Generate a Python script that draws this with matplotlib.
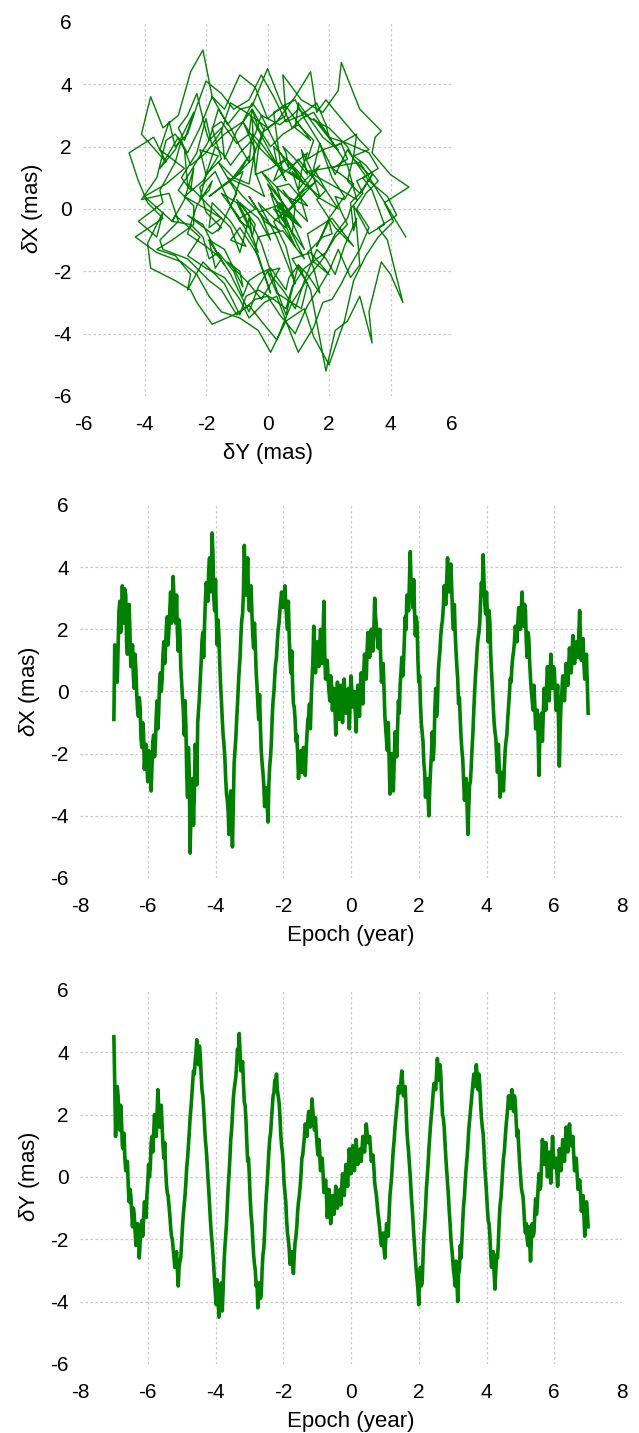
import numpy as np
import matplotlib.pyplot as plt

plt.rcParams['font.family'] = ['Liberation Sans', 'DejaVu Sans']
plt.rcParams['mathtext.fontset'] = 'custom'
plt.rcParams['mathtext.it'] = 'Liberation Sans:italic'
plt.rcParams['mathtext.rm'] = 'Liberation Sans'
plt.rcParams['axes.unicode_minus'] = False

# epoch in years, 0.025 yr step
epoch = np.linspace(-7, 7, 561)

# dX (mas), one row per year
dx = [
    -0.9, 1.5, 1.2, 0.6, 0.3, 1.4, 2.6, 2.9, 1.9, 2.3, 3.4, 2.6, 2.2, 3.3, 3.1, 1.6, 1.2, 2.0, 2.8, 1.9,
    0.8, 1.0, 1.5, 0.5, 0.1, 1.2, 0.7, -0.1, -0.6, -0.8, -0.2, -0.5, -1.5, -1.8, -1.0, -1.3, -2.5, -2.0, -1.7, -2.4,
    -2.9, -1.9, -2.0, -2.7, -3.2, -2.4, -1.6, -1.4, -2.1, -1.7, -0.8, -0.3, -1.2, -0.6, 0.3, 0.6, 0.0, 0.4, 1.2, 1.6,
    0.9, 1.4, 2.1, 2.4, 1.5, 2.0, 2.6, 3.2, 2.2, 2.5, 3.7, 3.0, 2.6, 2.2, 3.1, 1.9, 1.3, 2.3, 1.9, 0.8,
    0.3, -0.2, -0.6, -1.4, -0.3, -1.1, -2.6, -3.4, -1.8, -2.6, -5.2, -3.9, -3.6, -2.8, -4.3, -3.3, -1.7, -2.1, -3.0, -1.0,
    -0.6, -0.2, 0.4, 0.9, 1.6, 1.9, 1.1, 2.1, 2.9, 3.5, 3.3, 2.9, 3.9, 4.3, 3.2, 3.6, 5.1, 4.4, 3.0, 2.6,
    3.6, 2.4, 1.5, 2.3, 1.8, 0.9, 0.2, -0.3, -0.9, -1.4, -1.7, -2.1, -2.8, -3.3, -3.5, -3.9, -4.6, -3.6, -3.2, -4.1,
    -5.0, -3.6, -2.3, -1.9, -1.5, -0.9, -0.4, 0.2, 0.7, 1.1, 1.8, 2.3, 2.5, 3.2, 4.7, 3.8, 3.1, 3.5, 4.3, 3.0,
    2.6, 3.1, 3.4, 2.5, 1.8, 1.4, 2.2, 1.5, 0.6, 0.2, -0.4, -0.9, -0.1, -1.1, -1.9, -2.3, -2.6, -3.0, -3.7, -3.4,
    -3.1, -3.6, -4.2, -3.0, -2.4, -2.1, -1.6, -0.8, -0.3, 0.0, 0.5, 0.9, 1.1, 1.6, 2.0, 2.2, 2.6, 2.9, 3.2, 3.0,
    2.7, 3.0, 3.4, 2.8, 2.4, 2.0, 2.9, 1.8, 1.0, 0.6, 1.3, 0.3, -0.4, -0.5, -0.9, -1.6, -1.4, -2.0, -2.8, -2.3,
    -2.1, -1.9, -2.6, -2.2, -1.8, -2.1, -2.7, -1.9, -1.4, -0.9, -0.8, -0.4, -1.2, -0.3, 0.4, 1.0, 2.1, 1.3, 0.6, 1.1,
    1.6, 1.2, 0.8, 1.4, 2.0, 1.5, 0.9, 1.8, 2.9, 1.2, 0.4, 0.7, 1.0, 0.4, 0.0, -0.3, 0.5, 0.2, -0.6, -0.4,
    0.1, -0.5, -1.4, -0.3, 0.3, -0.2, -0.9, -0.5, 0.2, -0.3, -1.0, -0.2, 0.4, -0.4, -0.7, -0.5, -0.1, 0.1, -1.2, -0.4,
    0.5, 0.0, -0.5, -0.2, 0.0, -0.6, -1.3, -0.4, 0.2, -0.3, -0.8, 0.1, 0.6, 0.0, -0.4, 0.6, 1.2, 0.8, 0.4, 1.3,
    1.9, 1.5, 1.1, 1.6, 2.0, 1.8, 1.3, 2.0, 3.0, 2.4, 2.1, 1.8, 1.4, 1.7, 2.0, 1.1, 0.3, 0.6, 0.9, 0.1,
    -0.8, -1.2, -1.6, -1.9, -1.0, -2.1, -3.3, -2.5, -2.0, -2.6, -3.2, -2.3, -1.3, -1.6, -2.1, -1.2, -0.3, -0.7, 0.2, 0.6,
    1.1, 0.5, 0.9, 1.7, 2.4, 2.0, 3.1, 2.9, 2.6, 3.5, 4.5, 3.3, 3.2, 2.7, 3.6, 2.6, 1.8, 2.4, 2.2, 1.0,
    0.3, 0.5, -0.4, -1.0, -1.3, -1.6, -2.3, -2.6, -3.4, -2.9, -2.8, -3.4, -4.0, -3.1, -2.5, -2.0, -1.3, -2.2, -1.8, -0.6,
    0.1, -0.8, -0.5, 0.6, 1.0, 1.3, 1.8, 2.1, 2.3, 2.7, 3.4, 3.0, 2.8, 3.6, 4.3, 3.5, 3.2, 3.7, 4.1, 3.3,
    2.4, 2.0, 2.8, 1.9, 1.3, 0.8, 0.4, -0.4, -0.2, -0.9, -1.5, -1.9, -2.2, -2.9, -3.5, -3.0, -2.8, -3.6, -4.6, -3.8,
    -3.0, -2.9, -2.4, -1.8, -1.3, -0.6, 0.0, 0.5, 0.9, 1.4, 1.7, 1.9, 2.2, 2.9, 3.5, 3.1, 4.4, 3.6, 2.8, 2.5,
    3.2, 2.5, 1.6, 2.6, 2.2, 1.2, 0.6, 0.1, -0.5, -1.0, -1.3, -1.5, -2.1, -2.6, -1.7, -2.4, -3.4, -2.8, -2.6, -2.9,
    -3.2, -2.5, -1.9, -1.6, -1.4, -0.9, -0.5, -0.1, 0.4, 0.3, 0.8, 1.1, 1.3, 1.6, 2.1, 1.9, 1.6, 2.2, 2.7, 2.4,
    2.0, 2.6, 3.2, 2.4, 2.1, 2.8, 2.6, 1.6, 1.1, 1.9, 1.7, 0.9, 0.4, 0.0, -0.3, -0.6, 0.2, -0.4, -1.2, -1.0,
    -0.6, -1.5, -2.7, -1.3, -0.9, -0.7, -1.6, -0.8, 0.1, -0.2, -0.6, 0.2, 0.8, 0.0, -0.3, 0.5, 1.2, 0.4, 0.1, 0.8,
    0.7, 0.1, -0.6, -0.3, 0.2, -0.9, -2.4, -1.2, -0.4, 0.0, 0.5, 0.2, -0.3, 0.3, 0.9, 0.6, 0.2, 0.8, 1.4, 0.9,
    0.6, 1.2, 1.8, 1.3, 0.9, 1.4, 1.6, 1.3, 1.1, 1.9, 2.6, 1.6, 1.0, 1.2, 1.7, 0.9, 0.4, 0.8, 1.2, 0.3,
    -0.7,
]

# dY (mas), one row per year
dy = [
    4.5, 3.0, 1.3, 2.4, 2.9, 2.6, 1.8, 1.5, 2.3, 1.8, 1.0, 0.9, 1.4, 0.6, 0.2, 0.4, 0.5, -0.3, -0.8, -0.4,
    -0.6, -1.1, -1.6, -1.0, -1.2, -1.7, -2.2, -2.0, -1.5, -1.8, -2.6, -2.1, -1.6, -1.4, -1.9, -1.4, -0.8, -0.9, -1.3, -0.6,
    -0.2, 0.4, 0.0, 0.3, 1.1, 1.3, 0.8, 1.4, 2.0, 1.5, 1.3, 2.1, 2.8, 2.2, 1.6, 1.9, 2.3, 1.6, 1.0, 0.6,
    1.1, 0.3, -0.2, -0.5, -0.6, -0.9, -1.2, -1.6, -1.9, -2.0, -2.3, -2.6, -2.9, -2.7, -2.4, -3.0, -3.5, -2.9, -2.7, -2.6,
    -2.1, -1.6, -1.2, -0.9, -0.6, -0.2, 0.3, 0.6, 1.0, 1.4, 1.9, 2.2, 2.6, 3.0, 3.4, 3.3, 3.7, 4.0, 4.4, 3.9,
    3.6, 4.2, 3.9, 3.3, 2.8, 2.6, 2.2, 1.7, 1.2, 0.9, 0.5, 0.0, -0.4, -0.9, -1.4, -1.8, -2.1, -2.5, -2.9, -3.4,
    -3.8, -4.1, -3.3, -3.7, -4.5, -4.2, -3.9, -3.4, -4.3, -3.6, -2.8, -2.3, -1.9, -1.5, -0.9, -0.3, 0.1, 0.6, 1.2, 1.5,
    2.0, 2.5, 2.8, 3.0, 3.2, 3.6, 4.1, 3.8, 4.6, 4.0, 3.4, 3.5, 3.7, 3.0, 2.4, 2.3, 1.8, 1.1, 0.5, 0.6,
    0.0, -0.7, -1.2, -1.5, -2.0, -2.5, -2.8, -3.0, -3.5, -3.4, -4.2, -3.6, -3.4, -3.9, -3.8, -3.0, -2.5, -2.3, -1.8, -1.1,
    -0.6, -0.2, 0.3, 0.8, 1.2, 1.4, 1.8, 2.2, 2.6, 2.7, 3.1, 2.9, 3.3, 2.8, 2.6, 2.4, 2.0, 1.4, 1.0, 0.8,
    0.4, -0.2, -0.5, -0.8, -1.4, -1.8, -2.0, -2.3, -2.8, -2.5, -2.4, -2.7, -3.1, -2.5, -2.1, -1.9, -1.6, -1.1, -0.8, -0.6,
    -0.3, 0.1, 0.6, 0.7, 1.0, 1.3, 1.7, 1.5, 1.3, 1.8, 2.1, 2.0, 1.6, 2.0, 2.5, 2.1, 1.7, 1.5, 1.9, 1.4,
    1.0, 0.7, 1.2, 0.8, 0.2, 0.3, 0.6, 0.1, -0.5, -0.4, -0.1, -0.6, -1.3, -0.8, -0.4, -0.9, -1.5, -1.0, -0.6, -0.9,
    -1.2, -0.8, -0.3, -0.7, -1.0, -0.6, -0.5, -0.4, -0.9, -0.3, 0.1, -0.2, -0.6, -0.1, 0.4, 0.1, -0.3, 0.3, 0.9, 0.4,
    0.1, 0.5, 1.0, 0.6, 0.2, 0.7, 1.2, 0.8, 0.4, 0.6, 0.8, 0.9, 0.5, 0.9, 1.3, 1.0, 0.8, 1.2, 1.7, 1.4,
    1.1, 1.2, 1.3, 0.9, 0.5, 0.6, 0.7, 0.3, -0.2, -0.4, -0.6, -0.9, -1.2, -1.4, -1.7, -2.0, -2.2, -1.9, -1.8, -2.3,
    -2.6, -2.0, -1.5, -1.7, -1.9, -1.2, -0.6, -0.3, 0.0, 0.5, 0.9, 1.2, 1.6, 1.9, 2.2, 2.5, 2.9, 2.8, 2.7, 3.1,
    3.4, 3.0, 2.6, 2.8, 2.9, 2.2, 1.5, 1.1, 0.8, 0.4, 0.0, -0.5, -0.9, -1.3, -1.8, -2.2, -2.6, -3.0, -3.3, -3.6,
    -4.1, -3.2, -2.9, -3.5, -3.4, -2.6, -1.9, -1.5, -1.0, -0.4, 0.0, 0.4, 0.9, 1.3, 1.7, 2.0, 2.3, 2.7, 3.0, 2.9,
    2.8, 3.3, 3.8, 3.4, 3.1, 3.6, 3.3, 2.6, 2.0, 1.9, 1.6, 1.1, 0.6, 0.2, -0.2, -0.6, -1.1, -1.5, -2.0, -2.3,
    -2.6, -3.0, -3.2, -3.5, -2.7, -3.3, -4.0, -3.1, -3.0, -2.2, -2.6, -2.0, -1.4, -0.9, -0.6, -0.1, 0.3, 0.6, 1.0, 1.5,
    1.8, 2.1, 2.4, 2.7, 3.0, 3.3, 2.9, 3.2, 3.6, 3.2, 2.8, 3.3, 3.0, 2.4, 1.9, 1.6, 1.4, 0.9, 0.3, -0.1,
    -0.5, -1.0, -1.4, -1.5, -1.9, -2.5, -2.9, -2.4, -2.4, -3.1, -3.6, -3.0, -2.5, -2.6, -2.1, -1.4, -0.9, -0.7, -0.3, 0.2,
    0.6, 0.8, 1.2, 1.6, 1.9, 2.2, 2.6, 2.4, 2.2, 2.5, 2.8, 2.4, 2.1, 2.6, 2.4, 1.8, 1.3, 1.5, 1.0, 0.5,
    0.1, -0.3, -0.5, -0.6, -1.0, -1.5, -1.8, -1.5, -2.0, -2.2, -1.6, -2.1, -2.7, -2.0, -1.5, -1.9, -1.8, -1.2, -0.7, -1.2,
    -0.9, -0.3, 0.1, -0.4, -0.3, 0.5, 1.2, 0.8, 0.4, 0.6, 1.1, 0.5, 0.0, 0.4, 0.8, 0.3, -0.2, 0.6, 1.3, 0.7,
    0.3, 0.5, 0.6, 0.2, -0.3, 0.3, 0.9, 0.6, 0.2, 0.7, 1.2, 0.9, 0.5, 1.0, 1.6, 1.2, 0.8, 1.3, 1.7, 1.2,
    1.0, 1.1, 1.3, 0.7, 0.2, 0.4, 0.6, 0.1, -0.4, -0.3, -0.1, -0.5, -1.1, -0.9, -0.6, -1.2, -1.9, -1.4, -0.8, -1.1,
    -1.6,
]

sq_ticks = [-6, -4, -2, 0, 2, 4, 6]
ep_ticks = [-8, -6, -4, -2, 0, 2, 4, 6, 8]
GREEN = '#008000'


def style(ax, xt, yt):
    ax.set_xlim(xt[0], xt[-1])
    ax.set_ylim(yt[0], yt[-1])
    ax.set_xticks(xt)
    ax.set_yticks(yt)
    for s in ax.spines.values():
        s.set_visible(False)
    ax.tick_params(axis='both', length=0, labelsize=15)
    ax.tick_params(axis='x', pad=14)
    ax.tick_params(axis='y', pad=8)
    ax.grid(True, color='#c8c8c8', linestyle=(0, (2, 2)), linewidth=0.9)
    ax.set_axisbelow(True)
    # no grid line on the frame edges
    for gl in (ax.get_xgridlines(), ax.get_ygridlines()):
        gl[0].set_visible(False)
        gl[-1].set_visible(False)


fig = plt.figure(figsize=(6.39, 14.33), dpi=100)

ax1 = fig.add_axes([0.1299, 0.7237, 0.5775, 0.2610])
ax1.plot(dy, dx, color=GREEN, lw=1.0)
style(ax1, sq_ticks, sq_ticks)
ax1.set_xlabel('δY (mas)', fontsize=16, labelpad=6)
ax1.set_ylabel(r'$\delta$X (mas)', fontsize=16, labelpad=6)

ax2 = fig.add_axes([0.1252, 0.3873, 0.8482, 0.2603])
ax2.plot(epoch, dx, color=GREEN, lw=2.6)
style(ax2, ep_ticks, sq_ticks)
ax2.set_xlabel('Epoch (year)', fontsize=16, labelpad=6)
ax2.set_ylabel(r'$\delta$X (mas)', fontsize=16, labelpad=6)

ax3 = fig.add_axes([0.1252, 0.0482, 0.8482, 0.2610])
ax3.plot(epoch, dy, color=GREEN, lw=2.6)
style(ax3, ep_ticks, sq_ticks)
ax3.set_xlabel('Epoch (year)', fontsize=16, labelpad=6)
ax3.set_ylabel(r'$\delta$Y (mas)', fontsize=16, labelpad=6)

fig.savefig('out.png', dpi=100)
